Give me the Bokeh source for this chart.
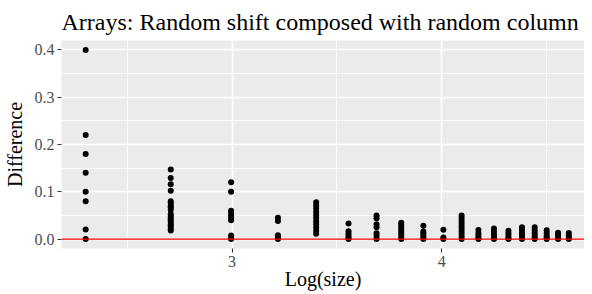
import numpy as np
from bokeh.plotting import figure
from bokeh.models import FixedTicker, Span, ColumnDataSource, Range1d, PrintfTickFormatter
from bokeh.embed import file_html
from bokeh.resources import INLINE

# ---- data ----
sizes = [10, 15, 20, 25, 30, 35, 40, 45, 50, 55, 60, 65, 70, 75, 80, 85, 90, 95, 100]

d10 = [0.40, 0.22, 0.18, 0.14, 0.10, 0.08, 0.02, 0.0]
d15 = [0.147, 0.129, 0.116, 0.102, 0.080, 0.076, 0.071, 0.067, 0.062, 0.053,
       0.049, 0.044, 0.040, 0.036, 0.031, 0.027, 0.022, 0.018]
d20 = [0.12, 0.10, 0.06, 0.055, 0.05, 0.045, 0.04, 0.0075, 0.0025, 0.0]
d25 = [0.0448, 0.0384, 0.008, 0.0032, 0.0]
d30 = [0.0778, 0.0711, 0.0644, 0.0578, 0.0511, 0.0444, 0.0378, 0.0311, 0.0244,
       0.0178, 0.0111]
d35 = [0.0327, 0.0163, 0.0114, 0.0065, 0.0016, 0.0]
d40 = [0.05, 0.04375, 0.03125, 0.025, 0.0125, 0.00625, 0.0]
d45 = [0.0346, 0.0296, 0.0247, 0.0198, 0.0148, 0.0099, 0.0049, 0.0]
d50 = [0.028, 0.016, 0.012, 0.008, 0.004, 0.0]
d55 = [0.0198, 0.0033, 0.0]
d60 = [0.05, 0.0444, 0.0389, 0.0333, 0.0278, 0.0222, 0.0167, 0.0111, 0.0056, 0.0]
d65 = [0.0189, 0.0118, 0.0071, 0.0024, 0.0]
d70 = [0.0224, 0.0163, 0.0102, 0.0061, 0.002, 0.0]
d75 = [0.0178, 0.0124, 0.0071, 0.0018, 0.0]
d80 = [0.025, 0.0203, 0.0141, 0.0094, 0.0047, 0.0]
d85 = [0.0249, 0.018, 0.0125, 0.0069, 0.0028, 0.0]
d90 = [0.0185, 0.0123, 0.0062, 0.0025, 0.0]
d95 = [0.0133, 0.0078, 0.0033, 0.0]
d100 = [0.013, 0.008, 0.003, 0.0]

diffs = [d10, d15, d20, d25, d30, d35, d40, d45, d50, d55, d60, d65, d70, d75,
         d80, d85, d90, d95, d100]

x_ticks = [3, 4]
x_minor = [2.5, 3.5, 4.5]
y_ticks = [0.0, 0.1, 0.2, 0.3, 0.4]
y_minor = [0.05, 0.15, 0.25, 0.35]

xs, ys = [], []
for s, vals in zip(sizes, diffs):
    for v in vals:
        xs.append(float(np.log(s)))
        ys.append(v)
src = ColumnDataSource(dict(x=xs, y=ys))

SERIF = "Liberation Serif"

p = figure(width=584, height=294, output_backend="svg", toolbar_location=None,
           x_range=Range1d(2.1874, 4.68), y_range=Range1d(-0.02, 0.42),
           min_border_left=55, min_border_right=0, min_border_top=40,
           min_border_bottom=46)

p.background_fill_color = "#EBEBEB"
p.border_fill_color = "white"
p.outline_line_color = None

p.title.text = "Arrays: Random shift composed with random column"
p.title.text_font = SERIF
p.title.text_font_size = "24px"
p.title.text_font_style = "normal"
p.title.text_color = "black"
p.title.align = "left"
p.title.standoff = 11

p.xaxis.ticker = FixedTicker(ticks=x_ticks, minor_ticks=x_minor)
p.yaxis.ticker = FixedTicker(ticks=y_ticks, minor_ticks=y_minor)
p.yaxis.formatter = PrintfTickFormatter(format="%.1f")

for ax in (p.xaxis, p.yaxis):
    ax.axis_line_color = None
    ax.minor_tick_line_color = None
    ax.major_tick_line_color = "#333333"
    ax.major_tick_line_width = 1.1
    ax.major_tick_out = 4
    ax.major_tick_in = 0
    ax.major_label_text_font = SERIF
    ax.major_label_text_font_size = "16px"
    ax.major_label_text_color = "#4D4D4D"
    ax.axis_label_text_font = SERIF
    ax.axis_label_text_font_size = "20px"
    ax.axis_label_text_font_style = "normal"
    ax.axis_label_text_color = "black"

p.xaxis.axis_label = "Log(size)"
p.yaxis.axis_label = "Difference"
p.xaxis.major_label_standoff = 3
p.yaxis.major_label_standoff = 3
p.xaxis.axis_label_standoff = -2
p.yaxis.axis_label_standoff = 6

for g in (p.xgrid, p.ygrid):
    g.grid_line_color = "white"
    g.grid_line_width = 1.6
    g.minor_grid_line_color = "white"
    g.minor_grid_line_width = 0.8

p.scatter("x", "y", source=src, size=6, fill_color="black", line_color="black",
          line_width=0)

p.add_layout(Span(location=0, dimension="width", line_color="red", line_width=1.3))

open("out.html", "w").write(file_html(p, INLINE))
